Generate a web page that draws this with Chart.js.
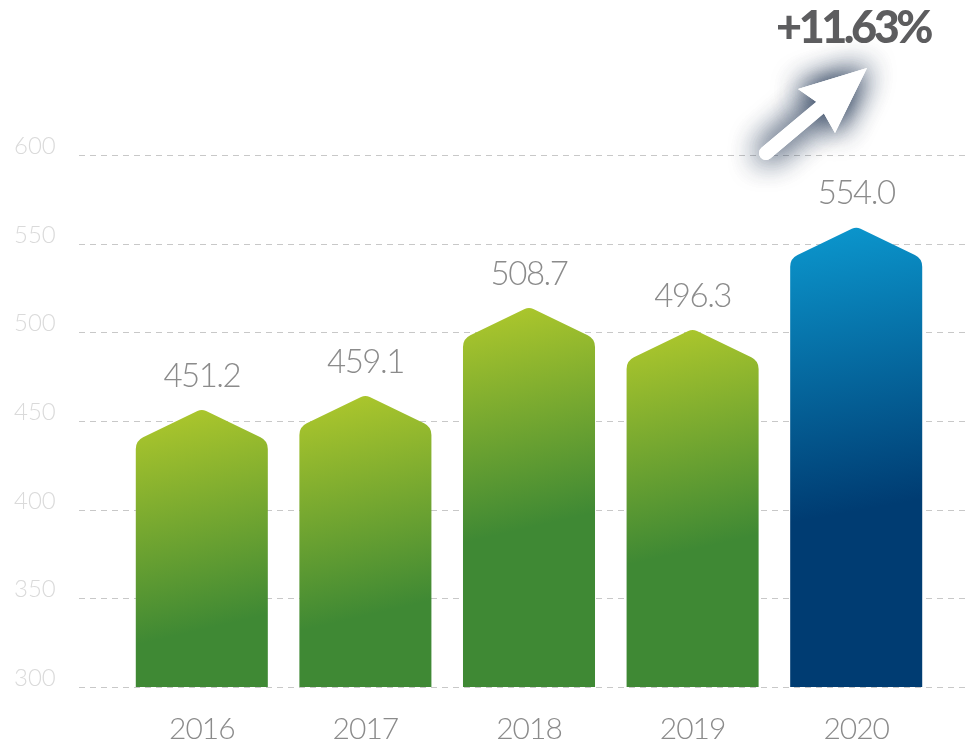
<!DOCTYPE html>
<html>
<head>
    <title>Balkendiagramm 2016-2020</title>
    <style>
        html, body {
            margin: 0;
            padding: 0;
            background: #ffffff;
        }

        #wrap {
            width: 970px;
            height: 748px;
            position: relative;
        }
    </style>
    <script src="https://cdn.jsdelivr.net/npm/chart.js@4.4.0/dist/chart.umd.min.js"></script>
</head>
<body>
    <div id="wrap">
        <canvas id="chartCanvas"></canvas>
    </div>

    <script>
        // Daten
        const years = ['2016', '2017', '2018', '2019', '2020'];
        const values = [451.2, 459.1, 508.7, 496.3, 554.0];
        const valueLabels = ['451.2', '459.1', '508.7', '496.3', '554.0'];
        const yTicks = [300, 350, 400, 450, 500, 550, 600];
        const growthLabel = '+11.63%';

        const FONT = 'Lato, "Open Sans", sans-serif';

        // Verlauf pro Balken (letzter Balken blau)
        function barGradient(ctx, el, peak, last) {
            const g = ctx.createLinearGradient(el.x - 25, peak, el.x + 25, peak + (last ? 280 : 215));
            if (last) {
                g.addColorStop(0, '#0b96cd');
                g.addColorStop(1, '#003c72');
            } else {
                g.addColorStop(0, '#adc72c');
                g.addColorStop(1, '#3f8934');
            }
            return g;
        }

        // Gitterlinien und Achsenbeschriftung
        const gridPlugin = {
            id: 'gridPlugin',
            beforeDatasetsDraw(chart) {
                const ctx = chart.ctx;
                const y = chart.scales.y;
                ctx.save();
                ctx.strokeStyle = '#c8c8c8';
                ctx.lineWidth = 1;
                ctx.setLineDash([6, 5]);
                ctx.font = '300 24px ' + FONT;
                ctx.textAlign = 'left';
                ctx.textBaseline = 'middle';
                yTicks.forEach(t => {
                    const py = Math.round(y.getPixelForValue(t)) + 0.5;
                    ctx.beginPath();
                    ctx.moveTo(79, py);
                    ctx.lineTo(966, py);
                    ctx.stroke();
                    ctx.fillStyle = '#dadada';
                    ctx.fillText(String(t), 14, py - 9);
                });
                ctx.restore();
            }
        };

        // Balken als Pfeilform zeichnen
        const shapePlugin = {
            id: 'shapePlugin',
            afterDatasetsDraw(chart) {
                const ctx = chart.ctx;
                const meta = chart.getDatasetMeta(0);
                const xScale = chart.scales.x;
                ctx.save();
                meta.data.forEach((el, i) => {
                    const w = el.width;
                    const left = el.x - w / 2;
                    const right = el.x + w / 2;
                    const peak = el.y - 10;
                    const shoulder = peak + 32;
                    const base = el.base;
                    const last = i === meta.data.length - 1;

                    ctx.beginPath();
                    ctx.moveTo(left, base);
                    ctx.lineTo(left, shoulder + 14);
                    ctx.arcTo(left, shoulder, el.x, peak, 13);
                    ctx.arcTo(el.x, peak, right, shoulder, 10);
                    ctx.arcTo(right, shoulder, right, base, 13);
                    ctx.lineTo(right, base);
                    ctx.closePath();
                    ctx.fillStyle = barGradient(ctx, el, peak, last);
                    ctx.fill();

                    // Wert über dem Balken
                    ctx.fillStyle = '#8b8b8b';
                    ctx.font = '300 33px ' + FONT;
                    ctx.letterSpacing = '-1.5px';
                    ctx.textAlign = 'center';
                    ctx.textBaseline = 'middle';
                    ctx.fillText(valueLabels[i], el.x, peak - 33);

                    // Jahr unter dem Balken
                    ctx.font = '300 30px ' + FONT;
                    ctx.letterSpacing = '-1px';
                    ctx.fillText(years[i], xScale.getPixelForValue(i), 729);
                });
                ctx.restore();
            }
        };

        // Pfeil und Wachstum oben rechts
        const growthPlugin = {
            id: 'growthPlugin',
            afterDraw(chart) {
                const ctx = chart.ctx;
                ctx.save();
                ctx.fillStyle = '#5d5d5f';
                ctx.font = '900 45px ' + FONT;
                ctx.letterSpacing = '-3.5px';
                ctx.textAlign = 'center';
                ctx.textBaseline = 'middle';
                ctx.fillText(growthLabel, 853, 28);

                function arrow() {
                    ctx.beginPath();
                    ctx.moveTo(766, 153);
                    ctx.lineTo(822, 106);
                    ctx.stroke();
                    ctx.beginPath();
                    ctx.moveTo(867, 68);
                    ctx.lineTo(798, 89);
                    ctx.lineTo(818, 103);
                    ctx.lineTo(835, 133);
                    ctx.closePath();
                    ctx.fill();
                }

                ctx.strokeStyle = '#ffffff';
                ctx.fillStyle = '#ffffff';
                ctx.lineWidth = 14;
                ctx.lineCap = 'round';
                ctx.lineJoin = 'round';
                ctx.shadowColor = 'rgba(35, 55, 85, 0.85)';
                ctx.shadowBlur = 30;
                arrow();
                arrow();
                ctx.shadowColor = 'rgba(0, 0, 0, 0)';
                arrow();
                ctx.restore();
            }
        };

        const chart = new Chart(document.getElementById('chartCanvas'), {
            type: 'bar',
            data: {
                labels: years,
                datasets: [{
                    data: values,
                    base: 300,
                    backgroundColor: 'rgba(0, 0, 0, 0)',
                    borderWidth: 0,
                    categoryPercentage: 0.807,
                    barPercentage: 1
                }]
            },
            options: {
                responsive: true,
                maintainAspectRatio: false,
                animation: false,
                layout: {
                    padding: { left: 120, right: 32, top: 155, bottom: 61 }
                },
                scales: {
                    x: { display: false },
                    y: { display: false, min: 300, max: 600 }
                },
                plugins: {
                    legend: { display: false },
                    tooltip: { enabled: false }
                }
            },
            plugins: [gridPlugin, shapePlugin, growthPlugin]
        });
    </script>
</body>
</html>
